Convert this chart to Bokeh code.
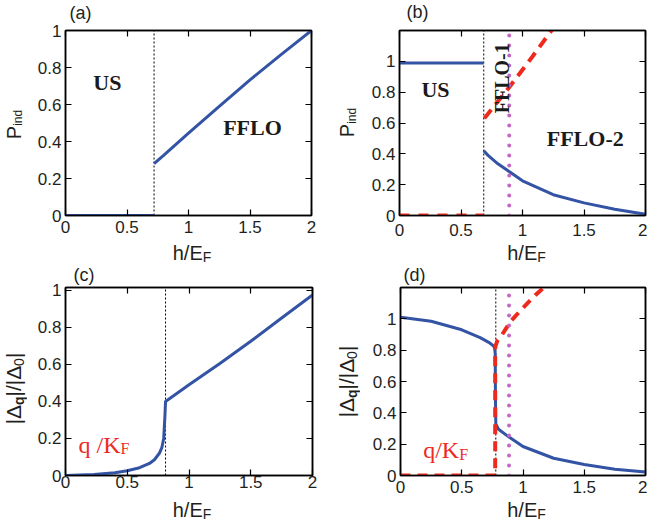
from math import pi
from bokeh.plotting import figure
from bokeh.models import Label, LinearAxis, FixedTicker, Range1d
from bokeh.layouts import column, row
from bokeh.embed import file_html
from bokeh.resources import INLINE

# ---------------- data ----------------
x_ticks = [0, 0.5, 1, 1.5, 2]
x_tick_labels = ["0", "0.5", "1", "1.5", "2"]
y_ticks = [0, 0.2, 0.4, 0.6, 0.8, 1]
y_tick_labels = ["0", "0.2", "0.4", "0.6", "0.8", "1"]

# (a) P_ind
a_us_x = [0.0, 0.72]
a_us_y = [0.0, 0.0]
a_ff_x = [0.72, 0.8, 1.0, 1.25, 1.5, 1.75, 2.0]
a_ff_y = [0.28, 0.327, 0.445, 0.59, 0.733, 0.868, 1.0]
a_trans = 0.72

# (b) P_ind, two FFLO branches
b_us_x = [0.0, 0.685]
b_us_y = [0.99, 0.99]
b_ff_x = [0.685, 0.72, 0.8, 0.9, 1.0, 1.25, 1.5, 1.75, 2.0]
b_ff_y = [0.42, 0.39, 0.335, 0.28, 0.225, 0.135, 0.082, 0.04, 0.008]
b_q0_x = [0.0, 0.685]
b_q0_y = [0.0, 0.0]
b_q_x = [0.69, 0.78, 0.9, 1.08, 1.24]
b_q_y = [0.63, 0.72, 0.84, 1.03, 1.205]
b_trans = 0.685
b_split = 0.892

# (c) |Delta_q|/|Delta_0|
c_x = [0.0, 0.23, 0.4, 0.5, 0.6, 0.68, 0.72, 0.76, 0.78, 0.795, 0.805, 0.81,
       1.0, 1.25, 1.5, 1.75, 2.0]
c_y = [0.0, 0.005, 0.015, 0.026, 0.042, 0.065, 0.085, 0.12, 0.15, 0.2, 0.32, 0.40,
       0.49, 0.605, 0.725, 0.85, 0.975]
c_trans = 0.81

# (d) |Delta_q|/|Delta_0| and q/K_F
d_x = [0.0, 0.25, 0.5, 0.65, 0.72, 0.755, 0.768, 0.773, 0.775, 0.778, 0.8, 0.886,
       1.0, 1.25, 1.5, 1.75, 2.0]
d_y = [1.01, 0.985, 0.93, 0.88, 0.85, 0.83, 0.815, 0.78, 0.5, 0.33, 0.295, 0.245,
       0.185, 0.11, 0.07, 0.04, 0.022]
d_q_x = [0.0, 0.773, 0.773, 0.79, 0.83, 0.9, 1.0, 1.1, 1.19]
d_q_y = [0.0, 0.0, 0.82, 0.86, 0.9, 0.985, 1.07, 1.15, 1.215]
d_trans = 0.778
d_split = 0.886

# ---------------- styles ----------------
BLUE = "#3353a4"
RED = "#ee2a1f"
MAG = "#c466c4"
INK = "#231f20"
SANS = "Liberation Sans"
SERIF = "Liberation Serif"

W = {
    "sans": {"h": 0.556, "/": 0.278, "E": 0.667, "F": 0.611, "P": 0.667, "i": 0.222,
             "n": 0.556, "d": 0.556, "|": 0.26, "Δ": 0.66, "0": 0.556},
    "sansb": {"q": 0.611},
    "serif": {"q": 0.5, "/": 0.278, "K": 0.722, "F": 0.556, " ": 0.25},
}


def rich(p, x, y, pieces, angle=0.0, color=INK, units="data", align="center",
         sides=None):
    """pieces: (text, size_px, kind, extra_down_px); anchor = middle of main text."""
    big = max(s for t, s, k, e in pieces)
    widths = [sum(W[k][c] for c in t) * s for t, s, k, e in pieces]
    pos = -sum(widths) / 2.0 if align == "center" else 0.0
    for i, ((t, s, k, e), w) in enumerate(zip(pieces, widths)):
        shift = 0.345 * (big - s) + e
        if t.strip():
            if angle == 0:
                dx, dy = pos, -shift
            else:
                dx, dy = shift, pos
            lab = Label(
                x=x, y=y, x_units=units, y_units=units, x_offset=dx, y_offset=dy,
                text=t, angle=angle, text_align="left", text_baseline="middle",
                text_font=SERIF if k == "serif" else SANS,
                text_font_style="bold" if k == "sansb" else "normal",
                text_font_size=f"{s}px", text_color=color)
            if sides is None or sides[i] is None:
                p.add_layout(lab)
            else:
                p.add_layout(lab, sides[i])
        pos += w


def style_axis(ax, ticks, labels, show, standoff=0):
    ax.ticker = FixedTicker(ticks=ticks)
    ax.major_label_overrides = dict(zip(ticks, labels))
    ax.major_tick_in = 6
    ax.major_tick_out = 0
    ax.minor_tick_line_color = None
    ax.axis_line_color = "black"
    ax.axis_line_width = 1.5
    ax.major_tick_line_color = "black"
    ax.major_tick_line_width = 1.2
    ax.axis_label = None
    ax.major_label_standoff = standoff
    if show:
        ax.major_label_text_font = SANS
        ax.major_label_text_font_size = "17px"
        ax.major_label_text_color = INK
    else:
        ax.major_label_text_font_size = "0px"


def make_fig(width, height, left, right, top, bottom, y_end, x_standoff):
    p = figure(width=width, height=height, x_range=Range1d(0, 2),
               y_range=Range1d(0, y_end), output_backend="svg",
               toolbar_location=None, title=None,
               min_border_left=left, min_border_right=right,
               min_border_top=top, min_border_bottom=bottom)
    p.xgrid.visible = False
    p.ygrid.visible = False
    p.outline_line_color = "black"
    p.outline_line_width = 1.5
    p.background_fill_color = "white"
    p.border_fill_color = "white"
    style_axis(p.xaxis[0], x_ticks, x_tick_labels, True, x_standoff)
    style_axis(p.yaxis[0], y_ticks, y_tick_labels, True, 4)
    ra = LinearAxis()
    style_axis(ra, y_ticks, y_tick_labels, False)
    p.add_layout(ra, "right")
    ta = LinearAxis()
    style_axis(ta, x_ticks, x_tick_labels, False)
    p.add_layout(ta, "above")
    return p


def strip(width, height):
    """A text-only canvas for labels that sit outside the plot frames."""
    s = figure(width=width, height=height, x_range=Range1d(0, 1),
               y_range=Range1d(0, 1), x_axis_type=None, y_axis_type=None,
               output_backend="svg", toolbar_location=None, title=None,
               min_border=0, min_border_left=0, min_border_right=0,
               min_border_top=0, min_border_bottom=0)
    s.outline_line_color = None
    s.background_fill_color = "white"
    s.border_fill_color = "white"
    return s


def vline(p, x, y_end, color, width, dash, cap="butt"):
    p.line([x, x], [0, y_end], line_color=color, line_width=width,
           line_dash=dash, line_cap=cap)


def letter(p, text, cx, cy, side=None):
    lab = Label(x=cx, y=cy, x_units="canvas", y_units="canvas", text=text,
                text_align="center", text_baseline="middle", text_font=SANS,
                text_font_size="18px", text_color=INK)
    if side is None:
        p.add_layout(lab)
    else:
        p.add_layout(lab, side)


def word(p, text, x, y, size=22, angle=0.0):
    p.add_layout(Label(x=x, y=y, text=text, angle=angle, text_align="center",
                       text_baseline="middle", text_font=SERIF,
                       text_font_style="bold", text_font_size=f"{size}px",
                       text_color="#1a1a1a"))


XLAB = [("h/E", 20, "sans", 0), ("F", 14, "sans", 2)]
PLAB = [("P", 20, "sans", 0), ("ind", 12, "sans", 2)]
DLAB = [("|Δ", 21, "sans", 0), ("q", 14, "sansb", 3), ("|/|Δ", 21, "sans", 0),
        ("0", 14, "sans", 3), ("|", 21, "sans", 0)]

# ---------------- (a) ----------------
pa = make_fig(304, 243, 39, 19, 30, 25, 1.0, 5)
vline(pa, a_trans, 1.0, "black", 1, "2 2")
pa.line(a_us_x, a_us_y, line_color=BLUE, line_width=3)
pa.line(a_ff_x, a_ff_y, line_color=BLUE, line_width=3)
word(pa, "US", 0.34, 0.72)
word(pa, "FFLO", 1.52, 0.476)
letter(pa, "(a)", 54, 12.5, "above")

# ---------------- (b) ----------------
pb = make_fig(289, 243, 41, 2, 28, 28, 1.2, 8)
vline(pb, b_trans, 1.2, "black", 1, "2 2")
pb.line(b_us_x, b_us_y, line_color=BLUE, line_width=3)
pb.line(b_ff_x, b_ff_y, line_color=BLUE, line_width=3)
pb.line(b_q0_x, b_q0_y, line_color=RED, line_width=4, line_dash="10 9")
pb.line(b_q_x, b_q_y, line_color=RED, line_width=4, line_dash="11 7")
vline(pb, b_split, 1.17, MAG, 4, "0 10", cap="round")
word(pb, "US", 0.293, 0.82)
word(pb, "FFLO-1", 0.83, 0.89, size=20, angle=pi / 2)
word(pb, "FFLO-2", 1.51, 0.50)
letter(pb, "(b)", 59, 11, "above")

# ---------------- (c) ----------------
pc = make_fig(303, 267, 38, 18, 23, 49, 1.015, 0)
vline(pc, c_trans, 1.015, "black", 1, "2 2")
pc.line(c_x, c_y, line_color=BLUE, line_width=3)
rich(pc, 0.105, 0.167, [("q", 24, "serif", 0), (" ", 24, "serif", 0),
                        ("/K", 24, "serif", 0), ("F", 16, "serif", 1.5)],
     color=RED, align="left")
rich(pc, 164.5, 245, XLAB, units="canvas", sides=["below", "right"])
letter(pc, "(c)", 56.5, 10.5, "above")

# ---------------- (d) ----------------
pd = make_fig(287, 267, 39, 2, 23, 56, 1.2, 5)
vline(pd, d_trans, 1.2, "black", 1, "2 2")
pd.line(d_x, d_y, line_color=BLUE, line_width=3)
pd.line(d_q_x, d_q_y, line_color=RED, line_width=4, line_dash="10 7")
vline(pd, d_split, 1.15, MAG, 4, "0 10", cap="round")
rich(pd, 0.185, 0.162, [("q", 24, "serif", 0), ("/K", 24, "serif", 0),
                        ("F", 16, "serif", 1.5)], color=RED, align="left")
rich(pd, 166, 245, XLAB, units="canvas", sides=["below", "left"])
letter(pd, "(d)", 54, 10.5, "above")

# ---------------- label strips ----------------
s_mid = strip(647, 21)
rich(s_mid, 191.5, 9, XLAB, units="canvas")
rich(s_mid, 526, 9, XLAB, units="canvas")

ya = strip(26, 243)
rich(ya, 13, 124, PLAB, angle=pi / 2, units="canvas")
yb = strip(28, 243)
rich(yb, 16.5, 122, PLAB, angle=pi / 2, units="canvas")
yc = strip(27, 267)
rich(yc, 12.6, 124, DLAB, angle=pi / 2, units="canvas")
yd = strip(30, 267)
rich(yd, 15.6, 117, DLAB, angle=pi / 2, units="canvas")

layout = column(row(ya, pa, yb, pb), s_mid, row(yc, pc, yd, pd))
open("out.html", "w").write(file_html(layout, INLINE))
